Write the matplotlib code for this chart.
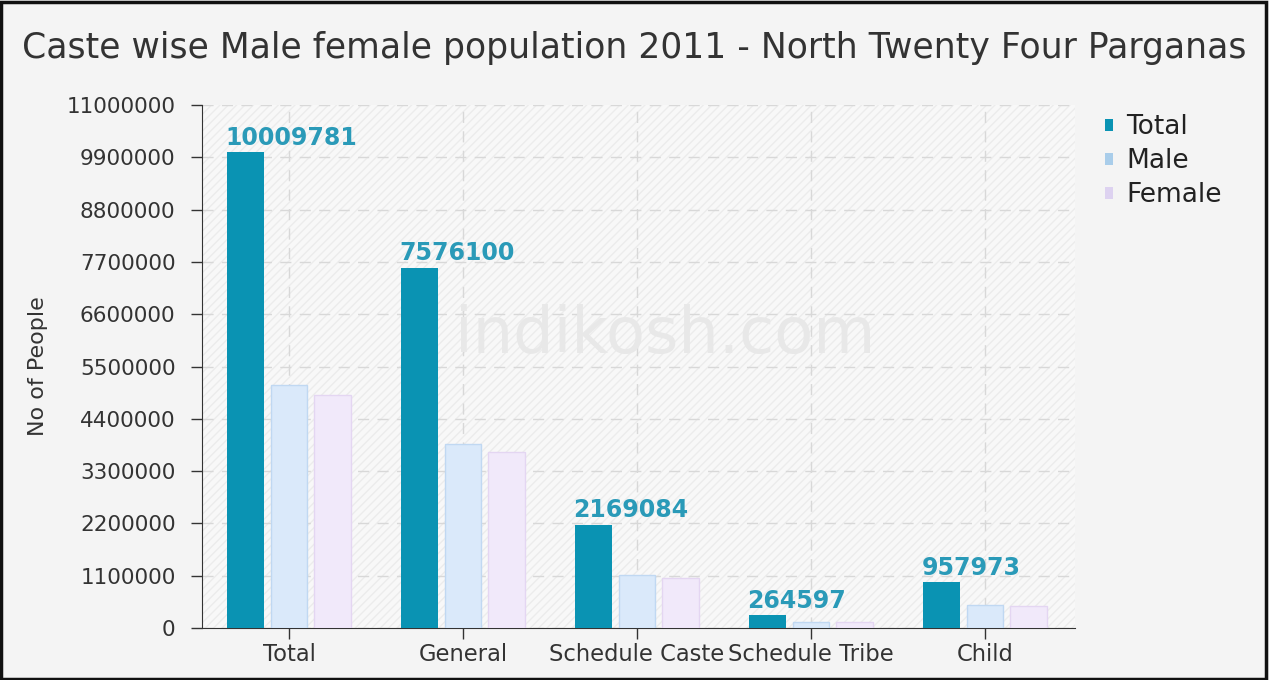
import matplotlib
matplotlib.use("Agg")
import matplotlib.pyplot as plt
import numpy as np
from matplotlib.patches import Rectangle, Patch

categories = ["Total", "General", "Schedule Caste", "Schedule Tribe", "Child"]
total = [10009781, 7576100, 2169084, 264597, 957973]
male = [5119389, 3880000, 1110000, 133000, 490000]
female = [4890392, 3696100, 1059084, 131597, 467973]
yticks = [0, 1100000, 2200000, 3300000, 4400000, 5500000, 6600000, 7700000, 8800000, 9900000, 11000000]

W, H = 1269, 680
fig = plt.figure(figsize=(W / 100, H / 100), dpi=100)
fig.patch.set_facecolor("#f4f4f4")
fig.patches.append(Rectangle((0.001, 0.001), 0.997, 0.996, transform=fig.transFigure,
                             fill=False, edgecolor="#111111", linewidth=2.5))

ax = fig.add_axes([202 / W, 1 - 628 / H, (1075 - 202) / W, (628 - 105) / H])
ax.set_facecolor("#f8f8f8")
ax.add_patch(Rectangle((0, 0), 1, 1, transform=ax.transAxes, facecolor="none",
                       hatch="////", edgecolor="#ececec", linewidth=0, zorder=0))

x = np.arange(len(categories))
bw = 0.212
off = 0.25
c_total = "#0a93b3"
ax.bar(x - off, total, bw, color=c_total, zorder=3)
ax.bar(x, male, bw, color="#dae9fa", edgecolor="#c0d8f2", linewidth=1, zorder=3)
ax.bar(x + off, female, bw, color="#f1e9fa", edgecolor="#e4d6f2", linewidth=1, zorder=3)

for xi, v in zip(x, total):
    ax.text(xi - off - bw / 2 - 0.01, v + 50000, f"{v}", color="#2a9ab8", fontsize=17,
            fontweight="bold", ha="left", va="bottom", zorder=4)

ax.set_xlim(-0.5, 4.517)
ax.set_ylim(0, 11000000)
ax.set_yticks(yticks)
ax.set_yticklabels([str(t) for t in yticks], fontsize=15.5, color="#333333")
ax.set_xticks(x)
ax.set_xticklabels(categories, fontsize=16.3, color="#333333")
ax.tick_params(axis="y", length=8, width=1, color="#333333", pad=11)
ax.tick_params(axis="x", length=8, width=1, color="#333333", pad=3)
for s in ["top", "right"]:
    ax.spines[s].set_visible(False)
for s in ["left", "bottom"]:
    ax.spines[s].set_color("#333333")
ax.grid(True, axis="both", linestyle=(0, (8, 6)), color="#d8d8d8", linewidth=1, zorder=1)
ax.set_axisbelow(True)
fig.text(38 / W, 1 - 366 / H, "No of People", rotation=90, fontsize=16, color="#333333",
         ha="center", va="center")

ax.text(0.53, 0.56, "indikosh.com", transform=ax.transAxes, fontsize=46, color="#e8e8e8",
        ha="center", va="center", zorder=2)

fig.text(22 / W, 1 - 48 / H, "Caste wise Male female population 2011 - North Twenty Four Parganas",
         fontsize=24.9, color="#333333", ha="left", va="center")

handles = [Patch(facecolor=c_total, label="Total"),
           Patch(facecolor="#a9cdea", label="Male"),
           Patch(facecolor="#ddd2f0", label="Female")]
leg = ax.legend(handles=handles, loc="upper left", bbox_to_anchor=(1087 / W, 1 - 96 / H),
                bbox_transform=fig.transFigure, frameon=False, fontsize=19,
                handlelength=0.3, handleheight=0.3, handletextpad=0.5, labelspacing=0.3,
                borderpad=0.2)
for t in leg.get_texts():
    t.set_color("#222222")

fig.savefig("out.png", dpi=100, facecolor=fig.get_facecolor())
